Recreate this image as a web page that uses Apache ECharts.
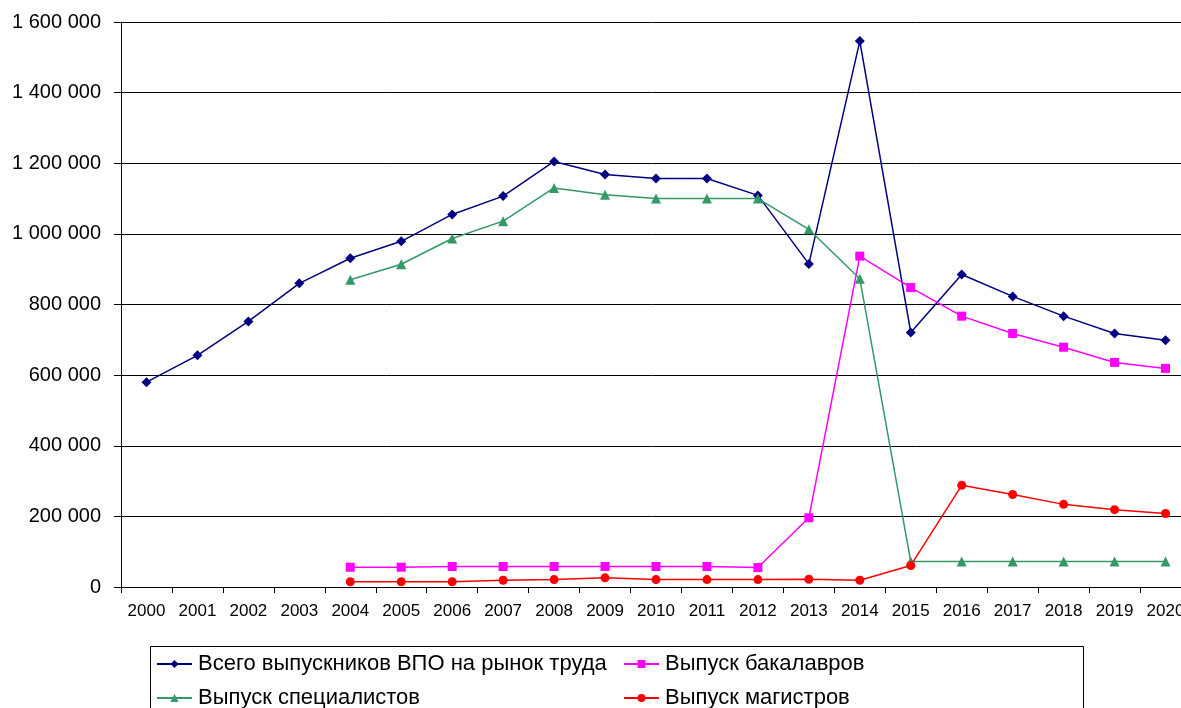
<!DOCTYPE html>
<html><head><meta charset="utf-8">
<script src="https://cdn.jsdelivr.net/npm/echarts@6/dist/echarts.min.js"></script>
<style>html,body{margin:0;padding:0;background:#fff}#c{width:1181px;height:708px}</style>
</head><body><div id="c"></div>
<script>
var years = ['2000','2001','2002','2003','2004','2005','2006','2007','2008','2009','2010','2011','2012','2013','2014','2015','2016','2017','2018','2019','2020'];
var totalName = 'Всего выпускников ВПО на рынок труда';
var bachName = 'Выпуск бакалавров';
var specName = 'Выпуск специалистов';
var magName = 'Выпуск магистров';
var total = [580000,656000,752000,860000,931000,979000,1055000,1107000,1205000,1168000,1157000,1157000,1109000,915000,1546000,721000,885000,823000,767000,718000,699000];
var bach = [null,null,null,null,56000,56000,58000,58000,58000,58000,58000,58000,55000,196000,937000,848000,767000,718000,679000,636000,619000];
var spec = [null,null,null,null,870000,914000,987000,1036000,1130000,1111000,1100000,1100000,1100000,1013000,873000,72000,72000,72000,72000,72000,72000];
var mag = [null,null,null,null,15000,15000,15000,19000,21000,26000,21000,21000,21000,22000,19000,61000,288000,262000,234000,219000,208000];
var yTicks = {min:0, max:1600000, interval:200000};

function fmt(v){ return String(v).replace(/\B(?=(\d{3})+(?!\d))/g,' '); }
var font = 'Liberation Sans, Arial, sans-serif';
var chart = echarts.init(document.getElementById('c'), null, {renderer:'canvas'});
function ser(name, data, color, symbol, size){
  return {name:name, type:'line', data:data, connectNulls:false, symbol:symbol, symbolSize:size,
    showAllSymbol:true, animation:false,
    lineStyle:{color:color, width:1.5}, itemStyle:{color:color}};
}
function leg(name, left, top){
  return {left:left, top:top, padding:0, orient:'horizontal', itemWidth:35, itemHeight:10,
    textStyle:{fontSize:22, fontFamily:font, color:'#000', padding:[0,0,0,1]}, data:[name]};
}
chart.setOption({
  animation:false,
  textStyle:{fontFamily:font, color:'#000'},
  grid:{left:121, top:22, width:1070, height:565, containLabel:false, outerBoundsMode:'none'},
  xAxis:{type:'category', data:years, boundaryGap:true,
    axisLine:{lineStyle:{color:'#000', width:1}},
    axisTick:{show:true, interval:0, length:6, lineStyle:{color:'#000'}},
    axisLabel:{interval:0, color:'#000', fontSize:17, fontFamily:font, margin:16},
    splitLine:{show:false}},
  yAxis:{type:'value', min:yTicks.min, max:yTicks.max, interval:yTicks.interval,
    axisLine:{show:true, lineStyle:{color:'#000', width:1}},
    axisTick:{show:true, length:7, lineStyle:{color:'#000'}},
    axisLabel:{color:'#000', fontSize:20, fontFamily:font, margin:20, formatter:fmt},
    splitLine:{show:true, lineStyle:{color:'#000', width:1}}},
  legend:[
    leg(totalName, 156, 653),
    leg(specName, 156, 687),
    leg(bachName, 623, 653),
    leg(magName, 623, 687)
  ],
  graphic:[{type:'rect', left:148, top:644, shape:{width:933, height:80},
    style:{fill:'none', stroke:'#000', lineWidth:1}, z:-1}],
  series:[
    ser(totalName, total, '#000080', 'diamond', 10),
    ser(bachName, bach, '#FF00FF', 'rect', 9),
    ser(specName, spec, '#339966', 'triangle', 10),
    ser(magName, mag, '#FF0000', 'circle', 9)
  ]
});
</script></body></html>
